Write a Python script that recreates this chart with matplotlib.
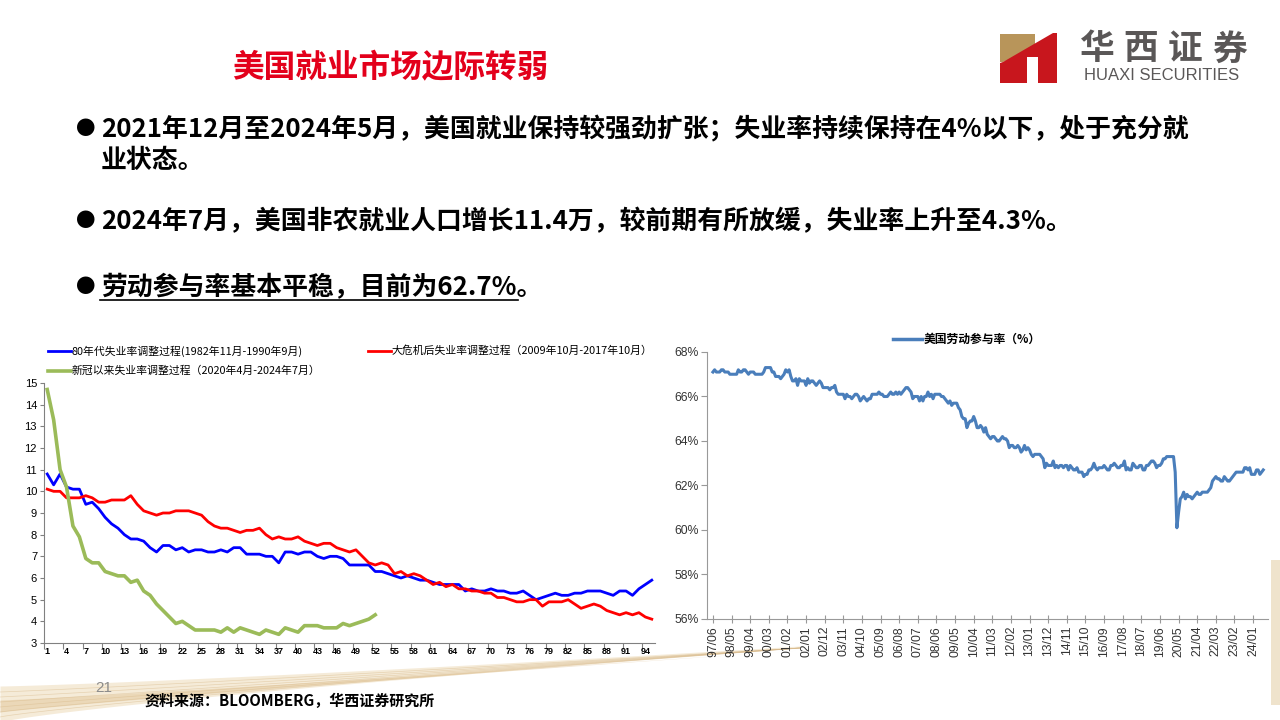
import numpy as np
import pandas as pd
import matplotlib
matplotlib.use('Agg')
import matplotlib.pyplot as plt
from matplotlib.lines import Line2D
from matplotlib.patches import Polygon

plt.rcParams['font.family'] = ['Noto Sans CJK SC', 'DejaVu Sans']

# ---------------- 左图：三轮失业率调整过程（%），横轴为月份序号 ----------------
unemp_80s = [10.8, 10.3, 10.8, 10.2, 10.1, 10.1, 9.4, 9.5, 9.2, 8.8, 8.5, 8.3, 8.0, 7.8, 7.8, 7.7,
             7.4, 7.2, 7.5, 7.5, 7.3, 7.4, 7.2, 7.3, 7.3, 7.2, 7.2, 7.3, 7.2, 7.4, 7.4, 7.1,
             7.1, 7.1, 7.0, 7.0, 6.7, 7.2, 7.2, 7.1, 7.2, 7.2, 7.0, 6.9, 7.0, 7.0, 6.9, 6.6,
             6.6, 6.6, 6.6, 6.3, 6.3, 6.2, 6.1, 6.0, 6.1, 6.0, 5.9, 5.9, 5.8, 5.7, 5.7, 5.7,
             5.7, 5.4, 5.5, 5.4, 5.4, 5.5, 5.4, 5.4, 5.3, 5.3, 5.4, 5.2, 5.0, 5.1, 5.2, 5.3,
             5.2, 5.2, 5.3, 5.3, 5.4, 5.4, 5.4, 5.3, 5.2, 5.4, 5.4, 5.2, 5.5, 5.7, 5.9]
unemp_gfc = [10.1, 10.0, 10.0, 9.7, 9.7, 9.7, 9.8, 9.7, 9.5, 9.5, 9.6, 9.6, 9.6, 9.8, 9.4, 9.1,
             9.0, 8.9, 9.0, 9.0, 9.1, 9.1, 9.1, 9.0, 8.9, 8.6, 8.4, 8.3, 8.3, 8.2, 8.1, 8.2,
             8.2, 8.3, 8.0, 7.8, 7.9, 7.8, 7.8, 7.9, 7.7, 7.6, 7.5, 7.6, 7.6, 7.4, 7.3, 7.2,
             7.3, 7.0, 6.7, 6.6, 6.7, 6.6, 6.2, 6.3, 6.1, 6.2, 6.1, 5.9, 5.7, 5.8, 5.6, 5.7,
             5.5, 5.5, 5.4, 5.4, 5.3, 5.3, 5.1, 5.1, 5.0, 4.9, 4.9, 5.0, 5.0, 4.7, 4.9, 4.9,
             4.9, 5.0, 4.8, 4.6, 4.7, 4.8, 4.7, 4.5, 4.4, 4.3, 4.4, 4.3, 4.4, 4.2, 4.1]
unemp_covid = [14.7, 13.3, 11.0, 10.2, 8.4, 7.9, 6.9, 6.7, 6.7, 6.3, 6.2, 6.1, 6.1, 5.8, 5.9, 5.4,
               5.2, 4.8, 4.5, 4.2, 3.9, 4.0, 3.8, 3.6, 3.6, 3.6, 3.6, 3.5, 3.7, 3.5, 3.7, 3.6,
               3.5, 3.4, 3.6, 3.5, 3.4, 3.7, 3.6, 3.5, 3.8, 3.8, 3.8, 3.7, 3.7, 3.7, 3.9, 3.8,
               3.9, 4.0, 4.1, 4.3]
legend_80s = '80年代失业率调整过程(1982年11月-1990年9月)'
legend_gfc = '大危机后失业率调整过程（2009年10月-2017年10月）'
legend_covid = '新冠以来失业率调整过程（2020年4月-2024年7月）'

# ---------------- 右图：美国劳动参与率（%），1997/06-2024/07 月度 ----------------
lfpr_start = '1997-06'
lfpr = [67.1, 67.2, 67.1, 67.1, 67.1, 67.2, 67.2,
        67.1, 67.1, 67.1, 67.0, 67.0, 67.0, 67.0, 67.0, 67.2, 67.1, 67.1, 67.2,
        67.2, 67.1, 67.0, 67.1, 67.1, 67.1, 67.0, 67.0, 67.0, 67.0, 67.0, 67.1,
        67.3, 67.3, 67.3, 67.3, 67.1, 67.1, 66.9, 66.9, 66.9, 66.8, 66.9, 67.0,
        67.2, 67.1, 67.2, 66.9, 66.7, 66.7, 66.8, 66.5, 66.8, 66.7, 66.7, 66.7,
        66.5, 66.8, 66.6, 66.7, 66.7, 66.6, 66.5, 66.6, 66.7, 66.6, 66.4, 66.4,
        66.4, 66.4, 66.3, 66.4, 66.4, 66.5, 66.2, 66.1, 66.1, 66.1, 66.1, 65.9,
        66.1, 66.0, 66.0, 65.9, 66.0, 66.1, 66.1, 66.0, 65.8, 65.9, 66.0, 65.9,
        65.8, 65.9, 65.9, 66.1, 66.1, 66.1, 66.1, 66.2, 66.1, 66.1, 66.0, 66.0,
        66.0, 66.1, 66.2, 66.1, 66.1, 66.2, 66.1, 66.2, 66.1, 66.2, 66.3, 66.4,
        66.4, 66.3, 66.2, 65.9, 66.0, 66.0, 66.0, 65.8, 66.0, 65.8, 66.0, 66.0,
        66.2, 66.0, 66.1, 65.9, 66.1, 66.1, 66.1, 66.1, 66.0, 66.0, 65.9, 65.8,
        65.7, 65.8, 65.6, 65.7, 65.7, 65.7, 65.5, 65.4, 65.1, 65.0, 65.0, 64.6,
        64.8, 64.9, 64.9, 65.1, 64.9, 64.6, 64.6, 64.7, 64.6, 64.4, 64.6, 64.3,
        64.2, 64.1, 64.2, 64.2, 64.1, 64.0, 64.0, 64.1, 64.2, 64.1, 64.1, 64.0,
        63.7, 63.8, 63.8, 63.7, 63.7, 63.8, 63.7, 63.5, 63.6, 63.8, 63.6, 63.7,
        63.6, 63.4, 63.3, 63.4, 63.4, 63.4, 63.4, 63.3, 63.2, 62.8, 63.0, 62.9,
        62.9, 62.9, 63.1, 62.8, 62.9, 62.8, 62.9, 62.9, 62.8, 62.9, 62.9, 62.7,
        62.9, 62.8, 62.7, 62.7, 62.8, 62.6, 62.6, 62.6, 62.4, 62.5, 62.5, 62.7,
        62.7, 62.8, 63.0, 62.8, 62.7, 62.8, 62.8, 62.8, 62.9, 62.8, 62.7, 62.7,
        62.9, 62.9, 63.0, 62.9, 62.8, 62.8, 62.9, 62.9, 63.1, 62.7, 62.8, 62.7,
        62.7, 63.0, 62.9, 62.8, 62.8, 62.9, 62.9, 62.7, 62.7, 62.9, 62.9, 63.0,
        63.1, 63.1, 63.0, 62.8, 62.9, 62.9, 63.0, 63.2, 63.2, 63.3, 63.3, 63.3,
        63.3, 63.3, 62.6, 60.1, 60.8, 61.4, 61.5, 61.7, 61.4, 61.6, 61.5, 61.5,
        61.4, 61.5, 61.6, 61.7, 61.6, 61.6, 61.7, 61.7, 61.7, 61.7, 61.8, 61.9,
        62.2, 62.3, 62.4, 62.3, 62.3, 62.2, 62.2, 62.4, 62.3, 62.2, 62.2, 62.3,
        62.4, 62.5, 62.6, 62.6, 62.6, 62.6, 62.6, 62.8, 62.8, 62.7, 62.8, 62.5,
        62.5, 62.5, 62.7, 62.7, 62.5, 62.6, 62.7]
lfpr_legend = '美国劳动参与率（%）'

W, H = 1280, 720


def fx(px):
    return px / W


def fy(py):
    return 1 - py / H


fig = plt.figure(figsize=(12.8, 7.2), dpi=100)
fig.patch.set_facecolor('white')

# ---------- 背景装饰（左下角金色波纹） ----------
bg = fig.add_axes([0, 0, 1, 1], zorder=-5)
bg.set_xlim(0, W)
bg.set_ylim(H, 0)
bg.axis('off')
xs = np.linspace(0, 800, 200)
t = xs / 800
bg.fill_between(xs, 686 - 40 * t ** 1.2, 722 - 74 * t ** 0.8, color='#EAD3AA', alpha=0.45, lw=0)
bg.fill_between(xs, 700 - 50 * t ** 1.1, 712 - 62 * t ** 0.9, color='#D9B67F', alpha=0.35, lw=0)
for k in range(6):
    bg.plot(xs, 692 + 5 * k - (44 + 5 * k) * t ** (1.1 - 0.05 * k), color='#D8B98A', lw=0.5, alpha=0.5)
bg.fill_between([1271, 1280], [560, 560], [705, 705], color='#EFE3CC', lw=0)

# ---------- 标题与正文 ----------
fig.text(fx(232), fy(68), '美国就业市场边际转弱', color='#E3001B', fontsize=22.8,
         fontweight='bold', va='center')

body = dict(fontsize=18.6, fontweight='bold', color='black', va='center')
for yb in (130, 222, 288):
    fig.text(fx(76), fy(yb), '●', fontsize=14, va='center')
fig.text(fx(101), fy(130), '2021年12月至2024年5月，美国就业保持较强劲扩张；失业率持续保持在4%以下，处于充分就', **body)
fig.text(fx(101), fy(160), '业状态。', **body)
fig.text(fx(101), fy(222), '2024年7月，美国非农就业人口增长11.4万，较前期有所放缓，失业率上升至4.3%。', **body)
fig.text(fx(101), fy(288), '劳动参与率基本平稳，目前为62.7%。', **body)
fig.add_artist(Line2D([fx(100), fx(518)], [fy(300), fy(300)], color='black', lw=1.2,
                      transform=fig.transFigure))

# ---------- 华西证券 logo ----------
gold = [(1000, 34), (1035, 34), (1035, 49), (1003, 62), (1000, 62)]
red = [(1003, 62), (1053, 33), (1057, 33), (1057, 83), (1038, 83), (1038, 57), (1027, 57),
       (1027, 83), (1000, 83), (1000, 63)]
bg.add_patch(Polygon(gold, closed=True, color='#B8955A', lw=0))
bg.add_patch(Polygon(red, closed=True, color='#C8161D', lw=0))
for cx, ch in zip([1097, 1141, 1185, 1229], '华西证券'):
    fig.text(fx(cx), fy(49), ch, color='#5A5757', fontsize=25, fontweight='bold',
             ha='center', va='center')
fig.text(fx(1162), fy(75), 'HUAXI SECURITIES', color='#5A5757', fontsize=12,
         ha='center', va='center', family=['Liberation Sans'])

# ---------- 页码与资料来源 ----------
fig.text(fx(95), fy(688), '21', color='#8C8C8C', fontsize=11, va='center',
         family=['Liberation Sans'])
fig.text(fx(144), fy(701), '资料来源：BLOOMBERG，华西证券研究所', fontsize=10.8,
         fontweight='bold', va='center')

# ---------- 左图 ----------
ax1 = fig.add_axes([fx(44), fy(643), fx(655) - fx(44), fy(383) - fy(643)])
x80 = np.arange(1, len(unemp_80s) + 1)
xgfc = np.arange(1, len(unemp_gfc) + 1)
xcov = np.arange(1, len(unemp_covid) + 1)
ax1.plot(x80, unemp_80s, color='#0000FF', lw=2.0)
ax1.plot(xgfc, unemp_gfc, color='#FF0000', lw=2.0)
ax1.plot(xcov, unemp_covid, color='#9BBB59', lw=2.6)
ax1.set_xlim(0.5, 95.5)
ax1.set_ylim(3, 15)
ax1.set_yticks(range(3, 16))
ax1.set_xticks(np.arange(0.5, 94, 3))
ax1.set_xticklabels([])
label_pos = np.arange(1, 95, 3)
ax1.set_xticks(label_pos, minor=True)
ax1.set_xticklabels([str(v) for v in label_pos], minor=True, fontsize=6.5, fontweight='bold',
                    family=['Liberation Sans'])
ax1.tick_params(axis='x', which='major', length=4, color='#808080', direction='out')
ax1.tick_params(axis='x', which='minor', length=0, pad=3)
ax1.tick_params(axis='y', length=3, color='#808080', labelsize=8, pad=2)
for lab in ax1.get_yticklabels():
    lab.set_family(['Liberation Sans'])
for s in ['top', 'right']:
    ax1.spines[s].set_visible(False)
for s in ['left', 'bottom']:
    ax1.spines[s].set_color('#808080')

# 左图图例
for (x0, y0, col, lw, txt) in [(48, 351, '#0000FF', 2.0, legend_80s),
                               (368, 351, '#FF0000', 2.0, legend_gfc),
                               (48, 371, '#9BBB59', 2.6, legend_covid)]:
    fig.add_artist(Line2D([fx(x0), fx(x0 + 23)], [fy(y0), fy(y0)], color=col, lw=lw,
                          transform=fig.transFigure))
    fig.text(fx(x0 + 24), fy(y0), txt, fontsize=7.8, va='center')

# ---------- 右图 ----------
ax2 = fig.add_axes([fx(707), fy(619), fx(1268) - fx(707), fy(352) - fy(619)])
periods = pd.period_range(lfpr_start, periods=len(lfpr), freq='M')
idx = np.arange(len(lfpr))
ax2.plot(idx, lfpr, color='#4A7EBB', lw=2.2)
ax2.set_xlim(-3.5, 327.8)
ax2.set_ylim(56, 68)
ax2.set_yticks(range(56, 69, 2))
ax2.set_yticklabels([f'{v}%' for v in range(56, 69, 2)], fontsize=8.8, color='#333333',
                    family=['Liberation Sans'])
tick_idx = idx[::11]
ax2.set_xticks(tick_idx)
ax2.set_xticklabels([periods[i].strftime('%y/%m') for i in tick_idx], rotation=90,
                    fontsize=8.8, color='#333333', family=['Liberation Sans'])
ax2.tick_params(axis='x', direction='inout', length=6, color='#999999', pad=2)
ax2.tick_params(axis='y', direction='out', length=4, color='#999999', pad=2)
for s in ['top', 'right']:
    ax2.spines[s].set_visible(False)
for s in ['left', 'bottom']:
    ax2.spines[s].set_color('#999999')

fig.add_artist(Line2D([fx(893), fx(922)], [fy(339), fy(339)], color='#4A7EBB', lw=2.5,
                      transform=fig.transFigure))
fig.text(fx(924), fy(339), lfpr_legend, fontsize=8.5, fontweight='bold', va='center')

fig.savefig('out.png', dpi=100)
